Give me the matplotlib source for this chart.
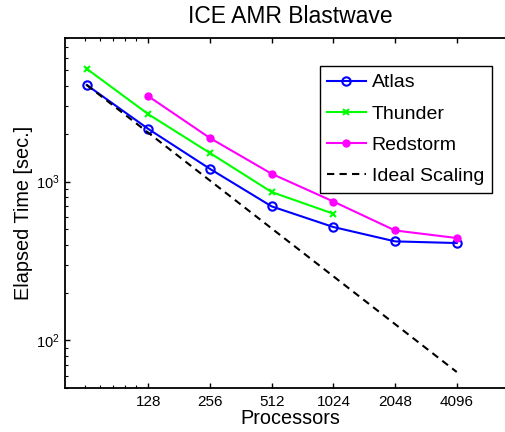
import matplotlib
matplotlib.use("Agg")
import matplotlib.pyplot as plt
from matplotlib.ticker import FixedLocator, NullFormatter, LogLocator

plt.rcParams['font.family'] = ['Liberation Sans', 'DejaVu Sans']
plt.rcParams['mathtext.default'] = 'regular'

# ---- data ----
procs_atlas = [64, 128, 256, 512, 1024, 2048, 4096]
atlas = [4050, 2140, 1200, 697, 517, 420, 410]

procs_thunder = [64, 128, 256, 512, 1024]
thunder = [5120, 2650, 1510, 858, 627]

procs_red = [128, 256, 512, 1024, 2048, 4096]
redstorm = [3440, 1875, 1118, 748, 492, 441]

procs_ideal = [64, 128, 256, 512, 1024, 2048, 4096]
ideal = [4050, 2025, 1012.5, 506.25, 253.1, 126.6, 63.3]

xticks = [128, 256, 512, 1024, 2048, 4096]
xtick_labels = ['128', '256', '512', '1024', '2048', '4096']
xminor = [63, 74, 86, 98, 112]

fig = plt.figure(figsize=(5.06, 4.32), dpi=100)
ax = fig.add_axes([0.1279, 0.1012, 0.8925, 0.8109])

lw = 1.5
ax.plot(procs_atlas, atlas, color=(0, 0, 1), lw=lw, marker='o', ms=6,
        mfc='none', mew=1.5, label='Atlas')
ax.plot(procs_thunder, thunder, color=(0, 1, 0), lw=lw, marker='x', ms=4.5,
        mew=1.5, label='Thunder')
ax.plot(procs_red, redstorm, color=(1, 0, 1), lw=lw, marker='o', ms=5,
        mfc=(1, 0, 1), mec=(1, 0, 1), label='Redstorm')
ax.plot(procs_ideal, ideal, color='k', lw=lw, ls=(0, (3.5, 2.5)),
        label='Ideal Scaling')

ax.set_xscale('log')
ax.set_yscale('log')
ax.set_xlim(50, 8000)
ax.set_ylim(50, 8000)

ax.xaxis.set_major_locator(FixedLocator(xticks))
ax.set_xticklabels(xtick_labels)
ax.xaxis.set_minor_locator(FixedLocator(xminor))
ax.xaxis.set_minor_formatter(NullFormatter())
ax.yaxis.set_major_locator(LogLocator(base=10))
ax.yaxis.set_minor_locator(LogLocator(base=10, subs=range(2, 10)))
ax.yaxis.set_minor_formatter(NullFormatter())

ax.tick_params(which='both', direction='in', top=True, right=True)
ax.tick_params(axis='x', labelsize=11)
ax.tick_params(axis='y', labelsize=10.5)
ax.tick_params(which='major', length=3.5, width=1.0)
ax.tick_params(which='minor', length=2, width=0.8)
ax.tick_params(axis='x', pad=5)
ax.tick_params(axis='y', pad=4)
for s in ax.spines.values():
    s.set_linewidth(1.3)

ax.set_title('ICE AMR Blastwave', fontsize=16.5, pad=11)
ax.set_xlabel('Processors', fontsize=14.3, labelpad=0)
ax.set_ylabel('Elapsed Time [sec.]', fontsize=14.3, labelpad=1.5)

leg = ax.legend(loc='upper right', bbox_to_anchor=(0.9455, 0.920),
                borderaxespad=0, fontsize=14, numpoints=1,
                handlelength=1.96, handletextpad=0.31, labelspacing=0.7,
                borderpad=0.4, fancybox=False, framealpha=1,
                edgecolor='k')
leg.get_frame().set_linewidth(1.0)

fig.savefig('out.png', dpi=100)
